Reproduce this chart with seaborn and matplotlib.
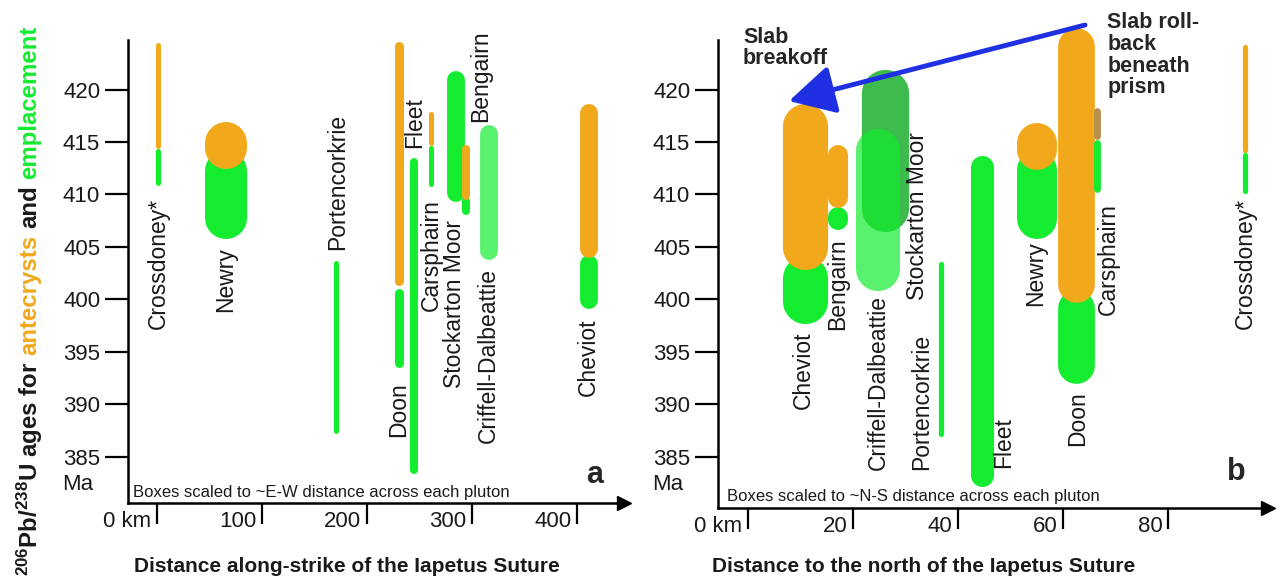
import numpy as np
import matplotlib
matplotlib.use("Agg")
import matplotlib.pyplot as plt
import matplotlib.transforms as mtransforms
import seaborn as sns

nan = np.nan

# ---------------- data ----------------
# Panel a : distance along strike of the Iapetus Suture (km)
a_names = ["Crossdoney*", "Newry", "Portencorkrie", "Doon", "Fleet", "Carsphairn",
           "Stockarton Moor", "Bengairn", "Criffell-Dalbeattie", "Cheviot"]
a_km = [1.4, 65.7, 170.5, 230.5, 244.8, 261.0, 284.8, 294.3, 316.2, 411.4]
a_width_km = [4.8, 40.0, 4.8, 8.6, 7.6, 4.8, 17.0, 7.6, 17.0, 17.0]
a_emp_old = [414.4, 414.2, 403.7, 401.0, 413.5, 414.7, 421.8, 409.7, 416.6, 404.2]
a_emp_young = [410.8, 405.7, 387.2, 393.5, 383.3, 410.7, 409.3, 408.0, 403.7, 399.1]
a_ant_old = [424.5, 416.9, nan, 424.6, nan, 417.9, nan, 414.7, nan, 418.6]
a_ant_young = [414.4, 412.4, nan, 401.3, nan, 414.7, nan, 409.5, nan, 403.9]

# Panel b : distance to the north of the Iapetus Suture (km)
b_names = ["Cheviot", "Bengairn", "Stockarton Moor", "Criffell-Dalbeattie", "Portencorkrie",
           "Fleet", "Newry", "Doon", "Carsphairn", "Crossdoney*"]
b_km = [10.9, 17.1, 26.1, 24.8, 36.8, 44.6, 55.0, 62.5, 66.5, 94.7]
b_width_km = [8.6, 3.8, 9.0, 8.4, 1.0, 4.4, 7.6, 7.0, 1.3, 1.0]
b_emp_old = [404.2, 408.8, 421.9, 416.2, 403.6, 413.7, 414.2, 400.9, 415.2, 414.0]
b_emp_young = [397.7, 406.6, 406.4, 400.8, 386.9, 382.1, 405.7, 392.0, 410.2, 410.1]
b_ant_old = [418.7, 414.7, nan, nan, nan, nan, 416.8, 425.9, 418.3, 424.3]
b_ant_young = [402.8, 408.7, nan, nan, nan, nan, 412.3, 399.7, 415.2, 414.0]

a_xticks = [0, 100, 200, 300, 400]
a_xticklabels = ["0 km", "100", "200", "300", "400"]
b_xticks = [0, 20, 40, 60, 80]
b_xticklabels = ["0 km", "20", "40", "60", "80"]
yticks = [385, 390, 395, 400, 405, 410, 415, 420]

# ---------------- styles ----------------
ORANGE = "#F1A81B"
GREEN = "#13EC2F"
DARKGREEN = "#3DBB4C"
TAN = "#B8914C"
BLUE = "#1F30E2"
TXT = "#1a1a1a"

# label layout: (km, age anchor, vertical alignment)
a_lab = [(1.4, 409.7, "top"), (65.7, 405.0, "top"), (172.4, 404.7, "bottom"),
         (230.5, 392.1, "top"), (245.7, 414.4, "bottom"), (261.0, 409.5, "top"),
         (283.8, 391.5, "bottom"), (308.6, 416.9, "bottom"), (315.2, 403.0, "top"),
         (410.5, 398.2, "top")]
b_lab = [(10.5, 396.9, "top"), (17.1, 405.8, "top"), (32.2, 399.9, "bottom"),
         (24.8, 383.7, "bottom"), (33.1, 383.7, "bottom"), (48.6, 383.9, "bottom"),
         (54.7, 405.5, "top"), (62.7, 391.2, "top"), (68.6, 409.2, "top"),
         (94.7, 409.7, "top")]

sns.set_style("white")
plt.rcParams["font.family"] = ["Liberation Sans", "DejaVu Sans"]
plt.rcParams["mathtext.fontset"] = "custom"
plt.rcParams["mathtext.bf"] = "Liberation Sans:bold"
plt.rcParams["mathtext.rm"] = "Liberation Sans:bold"
plt.rcParams["mathtext.it"] = "Liberation Sans:bold"
plt.rcParams["mathtext.default"] = "bf"

DPI = 100
W, H = 1278, 581
fig = plt.figure(figsize=(W / DPI, H / DPI), dpi=DPI)
fig.patch.set_facecolor("white")


def add_panel(x0, x1, ytop, ybot):
    return fig.add_axes([x0 / W, 1 - ybot / H, (x1 - x0) / W, (ybot - ytop) / H])


axA = add_panel(128, 624, 40, 503)
axB = add_panel(718, 1268, 40, 508)

PXMA = 10.486
axA.set_xlim((128 - 157) / 1.05, (624 - 157) / 1.05)
axA.set_ylim(420 - (503 - 89.5) / PXMA, 420 + (89.5 - 40) / PXMA)
axB.set_xlim((718 - 748) / 5.25, (1268 - 748) / 5.25)
axB.set_ylim(420 - (508 - 89.5) / PXMA, 420 + (89.5 - 40) / PXMA)


def px_scale(ax):
    p = ax.transData.transform([(0, 400), (1, 401)])
    return abs(p[1, 0] - p[0, 0]), abs(p[1, 1] - p[0, 1])


def pill(ax, x, old, young, wkm, color, alpha=1.0, z=2):
    if np.isnan(old):
        return
    pxkm, pxma = px_scale(ax)
    wpx = wkm * pxkm
    r = (wpx / 2) / pxma
    y0, y1 = old - r, young + r
    if y0 <= y1:
        m = (old + young) / 2
        y0, y1 = m + 0.01, m - 0.01
    sns.lineplot(x=[x, x], y=[y0, y1], ax=ax, color=color, linewidth=wpx * 72 / DPI,
                 solid_capstyle="round", alpha=alpha, sort=False, estimator=None,
                 clip_on=False, zorder=z, legend=False)


def style_axes(ax, xt, xtl):
    ax.set_facecolor("none")
    for s in ["top", "right"]:
        ax.spines[s].set_visible(False)
    for s in ["left", "bottom"]:
        ax.spines[s].set_linewidth(1.8)
        ax.spines[s].set_color("black")
    ax.set_yticks(yticks)
    ax.set_yticklabels([str(v) for v in yticks])
    ax.tick_params(axis="y", which="major", left=True, right=False, direction="out",
                   length=16.5, width=1.6, pad=3.5, labelsize=16, colors="black",
                   labelcolor=TXT)
    ax.set_xticks(xt)
    ax.set_xticklabels(xtl)
    ax.tick_params(axis="x", which="major", bottom=True, top=False, direction="out",
                   length=15, width=1.6, pad=-9.5, labelsize=16, colors="black",
                   labelcolor=TXT)
    off = mtransforms.ScaledTranslation(-4 / 72, 0, fig.dpi_scale_trans)
    for lbl in ax.get_xticklabels():
        lbl.set_horizontalalignment("right")
        lbl.set_transform(lbl.get_transform() + off)
    ax.plot([1], [0], marker=">", ms=10, color="black", transform=ax.transAxes,
            clip_on=False)
    ax.set_xlabel("")
    ax.set_ylabel("")


# ---------------- panel a ----------------
for i, n in enumerate(a_names):
    emp_alpha = 0.7 if n == "Criffell-Dalbeattie" else 1.0
    pill(axA, a_km[i], a_emp_old[i], a_emp_young[i], a_width_km[i], GREEN, emp_alpha, 2)
    pill(axA, a_km[i], a_ant_old[i], a_ant_young[i], a_width_km[i], ORANGE, 1.0, 3)
    kx, ky, va = a_lab[i]
    axA.text(kx, ky, n, rotation=90, ha="center", va=va, fontsize=16.5, color=TXT)

# ---------------- panel b ----------------
for i, n in enumerate(b_names):
    ec, ea = GREEN, 1.0
    if n == "Stockarton Moor":
        ec = DARKGREEN
    if n == "Criffell-Dalbeattie":
        ea = 0.7
    ac = TAN if n == "Carsphairn" else ORANGE
    pill(axB, b_km[i], b_emp_old[i], b_emp_young[i], b_width_km[i], ec, ea, 2 + i * 0.01)
    pill(axB, b_km[i], b_ant_old[i], b_ant_young[i], b_width_km[i], ac, 1.0, 2.005 + i * 0.01)
    kx, ky, va = b_lab[i]
    axB.text(kx, ky, n, rotation=90, ha="center", va=va, fontsize=16.5, color=TXT)

style_axes(axA, a_xticks, a_xticklabels)
style_axes(axB, b_xticks, b_xticklabels)

# annotations
axA.text(-90.5, 381.8, "Ma", fontsize=16, color=TXT, ha="left", va="baseline")
axB.text(-18.3, 381.8, "Ma", fontsize=16, color=TXT, ha="left", va="baseline")
axA.text(-22.9, 381.1, "Boxes scaled to ~E-W distance across each pluton", fontsize=12,
         color=TXT, ha="left", va="baseline")
axB.text(-4.0, 380.8, "Boxes scaled to ~N-S distance across each pluton", fontsize=12,
         color=TXT, ha="left", va="baseline")
axA.text(417.0, 382.5, "a", fontsize=22, fontweight="bold", ha="center", va="baseline")
axB.text(93.1, 382.8, "b", fontsize=22, fontweight="bold", ha="center", va="baseline")

axB.text(-0.95, 426.0, "Slab\nbreakoff", fontsize=15.5, fontweight="bold", ha="left",
         va="top", linespacing=1.02)
axB.text(68.4, 427.4, "Slab roll-\nback\nbeneath\nprism", fontsize=15.5, fontweight="bold",
         ha="left", va="top", linespacing=1.05)
axB.annotate("", xy=(7.8, 418.9), xytext=(64.2, 426.15), annotation_clip=False,
             arrowprops=dict(arrowstyle="-|>,head_length=1.4,head_width=0.75",
                             mutation_scale=20, lw=3.5, color=BLUE,
                             shrinkA=0, shrinkB=0))

fig.text(347 / W, 1 - 567 / H, "Distance along-strike of the Iapetus Suture",
         fontsize=15, fontweight="bold", ha="center", va="center", color=TXT)
fig.text(924 / W, 1 - 567 / H, "Distance to the north of the Iapetus Suture",
         fontsize=15, fontweight="bold", ha="center", va="center", color=TXT)

# multi-coloured rotated y label
renderer = fig.canvas.get_renderer()
YFS = 17.3
pieces = [(r"$^{206}$Pb/$^{238}$U ages for", TXT), ("antecrysts", ORANGE),
          ("and", TXT), ("emplacement", GREEN)]
t1 = fig.text(0, 0, "a a", fontsize=YFS, fontweight="bold")
t2 = fig.text(0, 0, "aa", fontsize=YFS, fontweight="bold")
space_px = t1.get_window_extent(renderer).width - t2.get_window_extent(renderer).width
t1.remove()
t2.remove()
ypos = H - 576
for s, c in pieces:
    t = fig.text(30 / W, ypos / H, s, rotation=90, ha="center", va="bottom",
                 fontsize=YFS, fontweight="bold", color=c)
    bb = t.get_window_extent(renderer)
    ypos = bb.y1 + space_px

fig.savefig("out.png", dpi=DPI, facecolor="white")
